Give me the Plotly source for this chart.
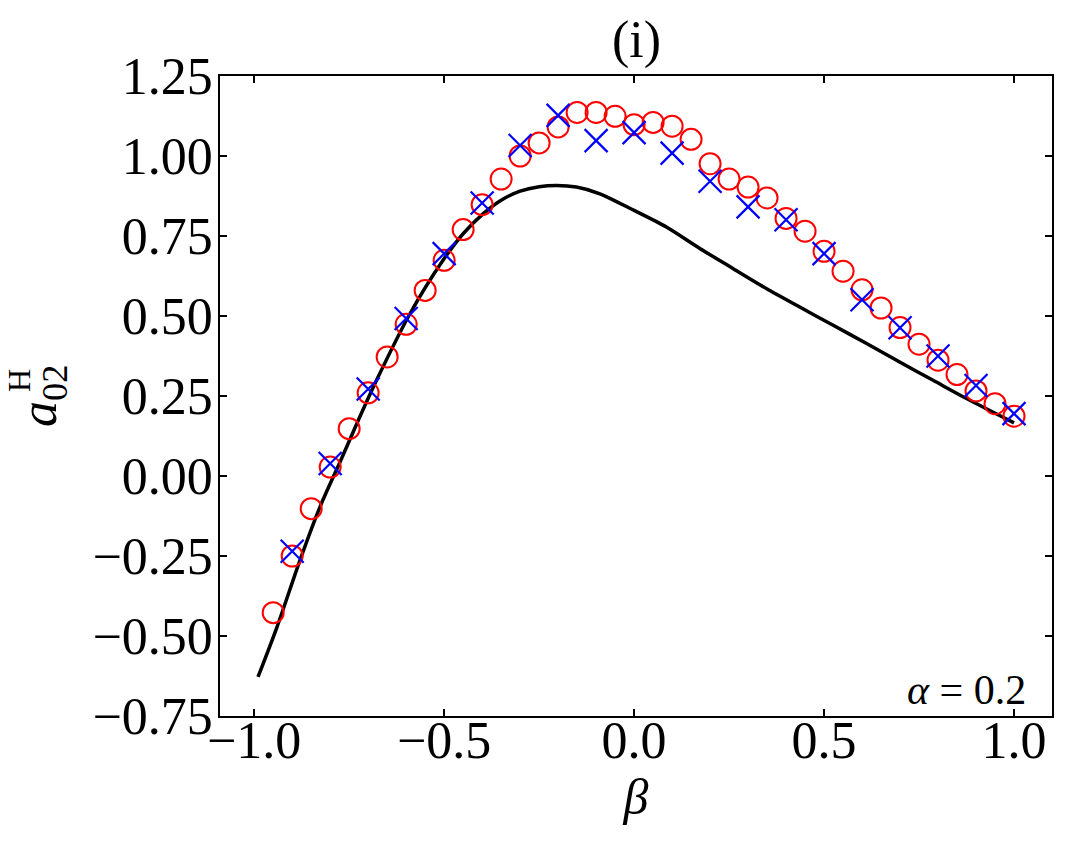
import plotly.graph_objects as go

# ---- data ----
beta_circ = [-0.95, -0.90, -0.85, -0.80, -0.75, -0.70, -0.65, -0.60, -0.55, -0.50,
             -0.45, -0.40, -0.35, -0.30, -0.25, -0.20, -0.15, -0.10, -0.05, 0.00,
             0.05, 0.10, 0.15, 0.20, 0.25, 0.30, 0.35, 0.40, 0.45, 0.50,
             0.55, 0.60, 0.65, 0.70, 0.75, 0.80, 0.85, 0.90, 0.95, 1.00]
a02_circ = [-0.427, -0.250, -0.102, 0.028, 0.148, 0.260, 0.372, 0.474, 0.580, 0.674,
            0.770, 0.848, 0.928, 1.000, 1.041, 1.091, 1.136, 1.136, 1.124, 1.098,
            1.105, 1.093, 1.052, 0.976, 0.928, 0.903, 0.869, 0.805, 0.765, 0.702,
            0.640, 0.582, 0.525, 0.464, 0.412, 0.362, 0.317, 0.266, 0.226, 0.187]

beta_cross = [-0.9, -0.8, -0.7, -0.6, -0.5, -0.4, -0.3, -0.2, -0.1, 0.0,
              0.1, 0.2, 0.3, 0.4, 0.5, 0.6, 0.7, 0.8, 0.9, 1.0]
a02_cross = [-0.235, 0.039, 0.272, 0.492, 0.695, 0.853, 1.033, 1.127, 1.048, 1.073,
             1.009, 0.921, 0.841, 0.801, 0.695, 0.551, 0.463, 0.375, 0.283, 0.195]

beta_line = [-0.99, -0.94, -0.88, -0.827, -0.774, -0.726, -0.678, -0.59, -0.503, -0.45,
             -0.397, -0.35, -0.30, -0.25, -0.204, -0.152, -0.09, 0.0, 0.085, 0.173, 0.261,
             0.348, 0.436, 0.524, 0.612, 0.699, 0.787, 0.875, 1.0]
a02_line = [-0.628, -0.472, -0.265, -0.097, 0.044, 0.174, 0.299, 0.507, 0.674, 0.757,
            0.820, 0.862, 0.890, 0.904, 0.908, 0.903, 0.882, 0.830, 0.778, 0.711, 0.648,
            0.586, 0.528, 0.471, 0.414, 0.356, 0.299, 0.242, 0.166]

x_ticks = [-1.0, -0.5, 0.0, 0.5, 1.0]
x_ticktext = ["\u22121.0", "\u22120.5", "0.0", "0.5", "1.0"]
y_ticks = [-0.75, -0.5, -0.25, 0.0, 0.25, 0.5, 0.75, 1.0, 1.25]
y_ticktext = ["\u22120.75", "\u22120.50", "\u22120.25", "0.00", "0.25", "0.50", "0.75", "1.00", "1.25"]

FONT = "Liberation Serif"

fig = go.Figure()
fig.add_trace(go.Scatter(x=beta_line, y=a02_line, mode="lines",
                         line=dict(color="black", width=3.5, shape="spline", smoothing=0.8),
                         showlegend=False))
fig.add_trace(go.Scatter(x=beta_circ, y=a02_circ, mode="markers",
                         marker=dict(symbol="circle-open", size=21, color="red",
                                     line=dict(width=2, color="red")),
                         showlegend=False))
fig.add_trace(go.Scatter(x=beta_cross, y=a02_cross, mode="markers",
                         marker=dict(symbol="x-thin", size=23, color="blue",
                                     line=dict(width=2.2, color="blue")),
                         showlegend=False))

axis_common = dict(showline=True, linecolor="black", linewidth=1.5, mirror="ticks",
                   ticks="inside", ticklen=7, tickwidth=1.5, tickcolor="black",
                   showgrid=False, zeroline=False,
                   tickfont=dict(family=FONT, size=52, color="black"))

fig.update_xaxes(range=[-1.09, 1.10], tickvals=x_ticks, ticktext=x_ticktext,
                 ticklabelstandoff=-22,
                 title=dict(text="<i>β</i>", font=dict(family=FONT, size=50, color="black"),
                            standoff=2),
                 **axis_common)
fig.update_yaxes(range=[-0.75, 1.25], tickvals=y_ticks, ticktext=y_ticktext,
                 ticklabelstandoff=-5,
                 **axis_common)

W, H = 1068, 843
L, R, T, B = 220, 16, 76, 127
pw, ph = W - L - R, H - T - B

def px2paper(px, py):
    return (px - L) / pw, (H - B - py) / ph

ax_, ay_ = px2paper(42, 396)
hx_, hy_ = px2paper(19, 381)

annotations = [
    dict(text="(i)", x=0.5, y=px2paper(0, 40)[1], xref="paper", yref="paper",
         showarrow=False, font=dict(family=FONT, size=52, color="black"),
         xanchor="center", yanchor="middle"),
    dict(text="<i>α</i> = 0.2", x=px2paper(1028, 0)[0], y=px2paper(0, 690)[1],
         xref="paper", yref="paper", showarrow=False,
         font=dict(family=FONT, size=42, color="black"),
         xanchor="right", yanchor="middle"),
    dict(text="<i>a</i><sub>02</sub>", x=ax_, y=ay_, xref="paper", yref="paper",
         showarrow=False, textangle=-90, font=dict(family=FONT, size=52, color="black"),
         xanchor="center", yanchor="middle"),
    dict(text="H", x=hx_, y=hy_, xref="paper", yref="paper",
         showarrow=False, textangle=-90, font=dict(family=FONT, size=32, color="black"),
         xanchor="center", yanchor="middle"),
]

fig.update_layout(width=W, height=H, margin=dict(l=L, r=R, t=T, b=B),
                  plot_bgcolor="white", paper_bgcolor="white",
                  annotations=annotations, showlegend=False)

fig.write_html("out.html")
